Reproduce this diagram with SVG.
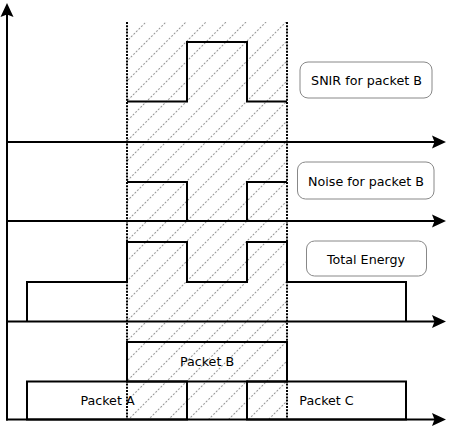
<svg xmlns="http://www.w3.org/2000/svg" width="449" height="429" viewBox="0 0 449 429">
<style>
.ln{fill:none;stroke:#000;stroke-width:2;stroke-linejoin:miter}
.dot{fill:none;stroke:#000;stroke-width:2;stroke-dasharray:2 1.2}
.box{fill:#fff;stroke:#888;stroke-width:1}
.t{font-family:"DejaVu Sans",sans-serif;font-size:12.7px;fill:#000;text-anchor:middle}
</style>
<defs>
<marker id="arr" markerUnits="userSpaceOnUse" markerWidth="16" markerHeight="16" viewBox="0 0 16 16" refX="9" refY="8" orient="auto">
<path d="M15,8 L1,1.5 L3.5,8 L1,14.5 z" fill="#000"/>
</marker>
<pattern id="hatch" patternUnits="userSpaceOnUse" x="5.16" y="0" width="14.142" height="3.6" patternTransform="rotate(45)">
<rect x="0" y="0" width="1" height="2" fill="#999"/>
</pattern>
</defs>
<rect x="127" y="22" width="160" height="397.5" fill="url(#hatch)"/>
<g id="connectors">
<line class="ln" x1="7" y1="420.5" x2="7" y2="9" marker-end="url(#arr)"/>
<line class="ln" x1="6" y1="142" x2="440" y2="142" marker-end="url(#arr)"/>
<line class="ln" x1="6" y1="221" x2="440" y2="221" marker-end="url(#arr)"/>
<line class="ln" x1="6" y1="321.5" x2="440" y2="321.5" marker-end="url(#arr)"/>
<line class="ln" x1="6" y1="419.5" x2="440" y2="419.5" marker-end="url(#arr)"/>
<line class="dot" x1="127" y1="22" x2="127" y2="419"/>
<line class="dot" x1="287" y1="22" x2="287" y2="419"/>
</g>
<g id="snir"><path class="ln" d="M127,101.5 H187 V42 H247 V101.5 H287"/></g>
<g id="noise"><path class="ln" d="M127,182 H187 V221"/><path class="ln" d="M247,221 V182 H287"/></g>
<g id="total"><path class="ln" d="M27,321.5 V282 H127 V242 H187 V282 H247 V242 H287 V282 H406 V321.5"/></g>
<g id="packetB"><rect class="ln" x="127" y="342" width="160" height="39.5"/><text class="t" x="207" y="366">Packet B</text></g>
<g id="packetA"><rect class="ln" x="27" y="381.5" width="160" height="38"/><text class="t" x="107.5" y="405">Packet A</text></g>
<g id="packetC"><rect class="ln" x="247" y="381.5" width="159" height="38"/><text class="t" x="326.5" y="405">Packet C</text></g>
<g id="lblSnir"><rect class="box" x="300" y="62" width="132" height="36" rx="8"/><text class="t" x="366.5" y="84.5">SNIR for packet B</text></g>
<g id="lblNoise"><rect class="box" x="297.5" y="162" width="136.5" height="37" rx="8"/><text class="t" x="366" y="185.5">Noise for packet B</text></g>
<g id="lblTotal"><rect class="box" x="306.5" y="241" width="120" height="35" rx="8"/><text class="t" x="366" y="264">Total Energy</text></g>
</svg>
